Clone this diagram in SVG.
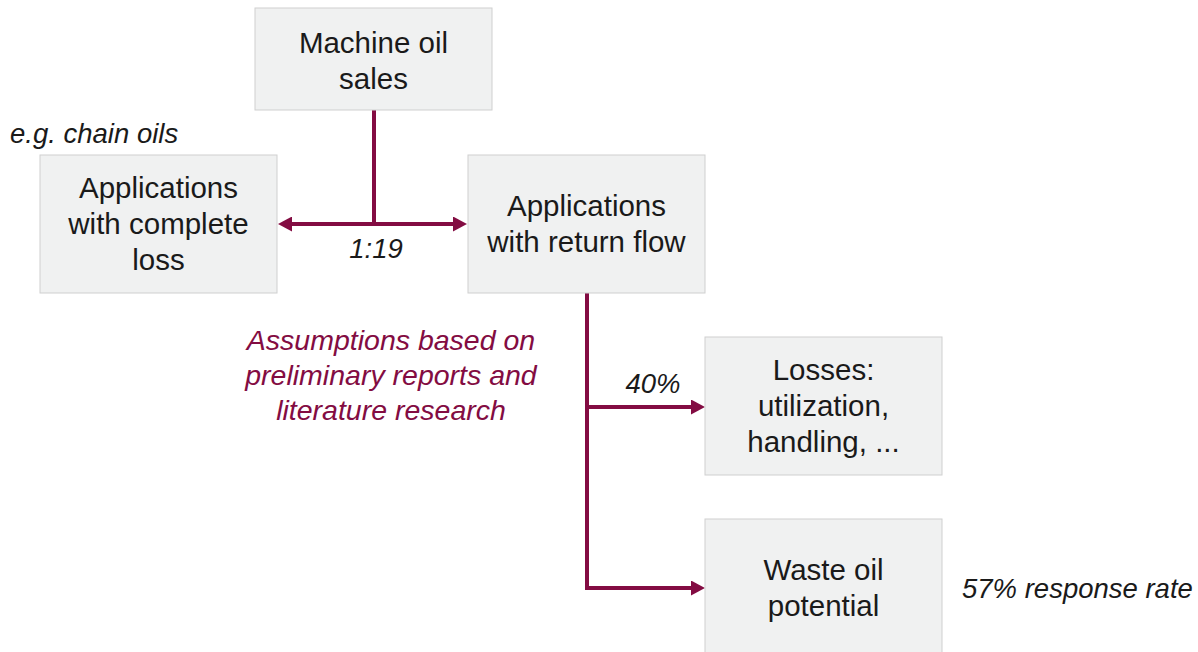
<svg xmlns="http://www.w3.org/2000/svg" width="1198" height="652" viewBox="0 0 1198 652">
  <style>
    .box { fill: #f0f1f1; stroke: #cfcfcf; stroke-width: 1; }
    .t { font-family: "Liberation Sans", Arial, sans-serif; font-size: 29.5px; fill: #1a1a1a; text-anchor: middle; }
    .i { font-family: "Liberation Sans", Arial, sans-serif; font-size: 27.5px; font-style: italic; fill: #1a1a1a; }
    .m { fill: #830c42; font-size: 28.5px; }
    .c { stroke: #830c42; stroke-width: 4; fill: none; }
  </style>
  <defs>
    <marker id="ah" viewBox="0 0 14 15" markerWidth="14" markerHeight="15" refX="0" refY="7.5" markerUnits="userSpaceOnUse" orient="auto-start-reverse">
      <path d="M0,0 L14,7.5 L0,15 z" fill="#830c42"/>
    </marker>
  </defs>
  <rect width="1198" height="652" fill="#ffffff"/>

  <g id="connectors">
    <path class="c" d="M374,110 V224"/>
    <path class="c" d="M292,224 H453" marker-start="url(#ah)" marker-end="url(#ah)"/>
    <path class="c" d="M587,293 V590"/>
    <path class="c" d="M587,407 H691" marker-end="url(#ah)"/>
    <path class="c" d="M585,588 H691" marker-end="url(#ah)"/>
  </g>

  <g id="machine-oil-sales">
    <rect class="box" x="255" y="8" width="237" height="102"/>
    <text class="t" x="373.5" y="53">Machine oil</text>
    <text class="t" x="373.5" y="89">sales</text>
  </g>

  <g id="complete-loss">
    <rect class="box" x="40" y="155" width="237" height="138"/>
    <text class="t" x="158.5" y="198">Applications</text>
    <text class="t" x="158.5" y="234">with complete</text>
    <text class="t" x="158.5" y="270">loss</text>
  </g>

  <g id="return-flow">
    <rect class="box" x="468" y="155" width="237" height="138"/>
    <text class="t" x="586.5" y="216">Applications</text>
    <text class="t" x="586.5" y="252">with return flow</text>
  </g>

  <g id="losses">
    <rect class="box" x="705" y="337" width="237" height="138"/>
    <text class="t" x="823.5" y="380">Losses:</text>
    <text class="t" x="823.5" y="416">utilization,</text>
    <text class="t" x="823.5" y="452">handling, ...</text>
  </g>

  <g id="waste-oil">
    <rect class="box" x="705" y="519" width="237" height="138"/>
    <text class="t" x="823.5" y="580">Waste oil</text>
    <text class="t" x="823.5" y="616">potential</text>
  </g>

  <g id="labels">
    <text class="i" x="10" y="143">e.g. chain oils</text>
    <text class="i" x="376" y="258" text-anchor="middle">1:19</text>
    <text class="i" x="653" y="393" text-anchor="middle">40%</text>
    <text class="i" x="962" y="598">57% response rate</text>
    <text class="i m" x="391" y="350" text-anchor="middle">Assumptions based on</text>
    <text class="i m" x="391" y="385" text-anchor="middle">preliminary reports and</text>
    <text class="i m" x="391" y="420" text-anchor="middle">literature research</text>
  </g>
</svg>
